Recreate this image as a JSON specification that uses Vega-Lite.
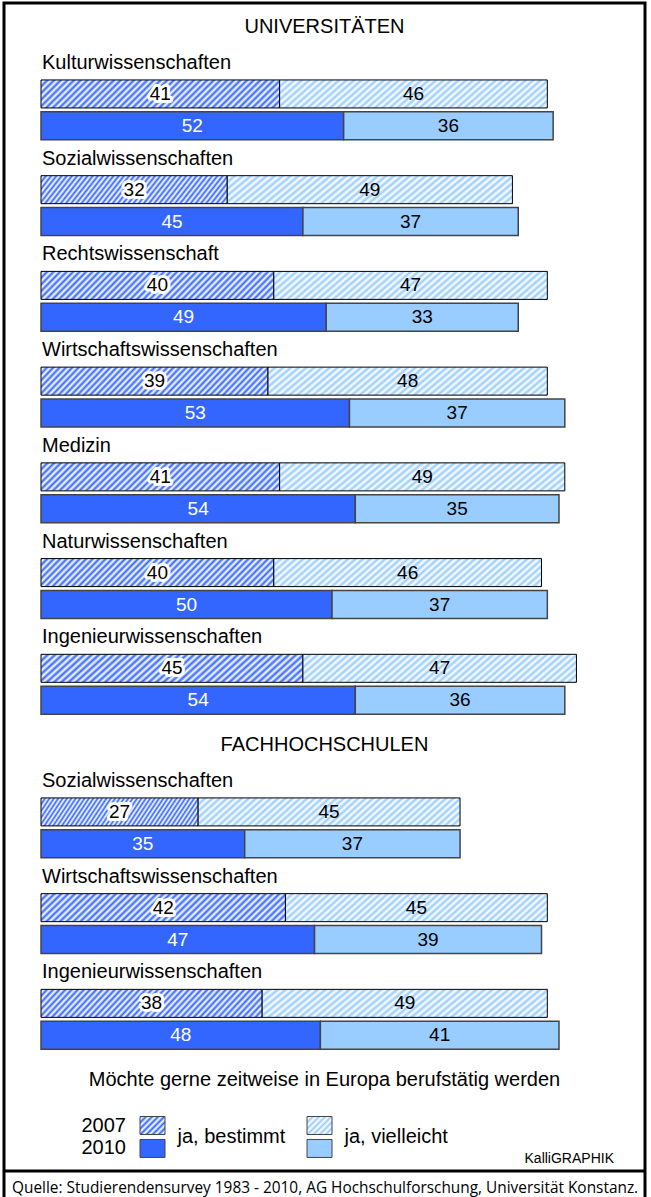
{
"$schema": "https://vega.github.io/schema/vega-lite/v6.json",
"width": 641,
"height": 1203,
"autosize": {"type": "none"},
"padding": {"left": 4, "top": 3, "right": 6, "bottom": 0},
"background": "#ffffff",
"config": {"view": {"stroke": "#000000", "strokeWidth": 3}, "font": "Liberation Sans", "axis": {"disable": true}},
"datasets": {
"bars": [
{"row":"U1-2007","year":2007,"typ":"ja, bestimmt","value":41},{"row":"U1-2007","year":2007,"typ":"ja, vielleicht","value":46},
{"row":"U1-2010","year":2010,"typ":"ja, bestimmt","value":52},{"row":"U1-2010","year":2010,"typ":"ja, vielleicht","value":36},
{"row":"U2-2007","year":2007,"typ":"ja, bestimmt","value":32},{"row":"U2-2007","year":2007,"typ":"ja, vielleicht","value":49},
{"row":"U2-2010","year":2010,"typ":"ja, bestimmt","value":45},{"row":"U2-2010","year":2010,"typ":"ja, vielleicht","value":37},
{"row":"U3-2007","year":2007,"typ":"ja, bestimmt","value":40},{"row":"U3-2007","year":2007,"typ":"ja, vielleicht","value":47},
{"row":"U3-2010","year":2010,"typ":"ja, bestimmt","value":49},{"row":"U3-2010","year":2010,"typ":"ja, vielleicht","value":33},
{"row":"U4-2007","year":2007,"typ":"ja, bestimmt","value":39},{"row":"U4-2007","year":2007,"typ":"ja, vielleicht","value":48},
{"row":"U4-2010","year":2010,"typ":"ja, bestimmt","value":53},{"row":"U4-2010","year":2010,"typ":"ja, vielleicht","value":37},
{"row":"U5-2007","year":2007,"typ":"ja, bestimmt","value":41},{"row":"U5-2007","year":2007,"typ":"ja, vielleicht","value":49},
{"row":"U5-2010","year":2010,"typ":"ja, bestimmt","value":54},{"row":"U5-2010","year":2010,"typ":"ja, vielleicht","value":35},
{"row":"U6-2007","year":2007,"typ":"ja, bestimmt","value":40},{"row":"U6-2007","year":2007,"typ":"ja, vielleicht","value":46},
{"row":"U6-2010","year":2010,"typ":"ja, bestimmt","value":50},{"row":"U6-2010","year":2010,"typ":"ja, vielleicht","value":37},
{"row":"U7-2007","year":2007,"typ":"ja, bestimmt","value":45},{"row":"U7-2007","year":2007,"typ":"ja, vielleicht","value":47},
{"row":"U7-2010","year":2010,"typ":"ja, bestimmt","value":54},{"row":"U7-2010","year":2010,"typ":"ja, vielleicht","value":36},
{"row":"F1-2007","year":2007,"typ":"ja, bestimmt","value":27},{"row":"F1-2007","year":2007,"typ":"ja, vielleicht","value":45},
{"row":"F1-2010","year":2010,"typ":"ja, bestimmt","value":35},{"row":"F1-2010","year":2010,"typ":"ja, vielleicht","value":37},
{"row":"F2-2007","year":2007,"typ":"ja, bestimmt","value":42},{"row":"F2-2007","year":2007,"typ":"ja, vielleicht","value":45},
{"row":"F2-2010","year":2010,"typ":"ja, bestimmt","value":47},{"row":"F2-2010","year":2010,"typ":"ja, vielleicht","value":39},
{"row":"F3-2007","year":2007,"typ":"ja, bestimmt","value":38},{"row":"F3-2007","year":2007,"typ":"ja, vielleicht","value":49},
{"row":"F3-2010","year":2010,"typ":"ja, bestimmt","value":48},{"row":"F3-2010","year":2010,"typ":"ja, vielleicht","value":41}
],
"labels": [
{"row":"U1L","label":"Kulturwissenschaften"},{"row":"U2L","label":"Sozialwissenschaften"},{"row":"U3L","label":"Rechtswissenschaft"},
{"row":"U4L","label":"Wirtschaftswissenschaften"},{"row":"U5L","label":"Medizin"},{"row":"U6L","label":"Naturwissenschaften"},
{"row":"U7L","label":"Ingenieurwissenschaften"},{"row":"F1L","label":"Sozialwissenschaften"},{"row":"F2L","label":"Wirtschaftswissenschaften"},
{"row":"F3L","label":"Ingenieurwissenschaften"}
],
"heads": [
{"row":"UNI","label":"UNIVERSITÄTEN"},{"row":"FH","label":"FACHHOCHSCHULEN"},{"row":"LT","label":"Möchte gerne zeitweise in Europa berufstätig werden"}
],
"legend": [
{"row":"L2007","year":"2007","typ":"ja, bestimmt"},{"row":"L2007","year":"2007","typ":"ja, vielleicht"},
{"row":"L2010","year":"2010","typ":"ja, bestimmt"},{"row":"L2010","year":"2010","typ":"ja, vielleicht"}
],
"notes": [{"row":"KG","label":"KalliGRAPHIK"}],
"source": [{"row":"Q","label":"Quelle: Studierendensurvey 1983 - 2010, AG Hochschulforschung, Universität Konstanz."}],
"divider": [{"row":"DIV"}]
},
"encoding": {
"y": {"field": "row", "type": "nominal", "axis": null,
"scale": {"type": "band", "paddingInner": 0, "paddingOuter": 0.2,
"domain": ["s0","UNI","s2","U1L","s4","U1-2007","s6","U1-2010","s8","U2L","s10","U2-2007","s12","U2-2010","s14","U3L","s16","U3-2007","s18","U3-2010","s20","U4L","s22","U4-2007","s24","U4-2010","s26","U5L","s28","U5-2007","s30","U5-2010","s32","U6L","s34","U6-2007","s36","U6-2010","s38","U7L","s40","U7-2007","s42","U7-2010","s44","s45","FH","s47","F1L","s49","F1-2007","s51","F1-2010","s53","F2L","s55","F2-2007","s57","F2-2010","s59","F3L","s61","F3-2007","s63","F3-2010","s65","s66","LT","s68","s69","L2007","L2010","KG","DIV","Q"]}}
},
"resolve": {"scale": {"x": "independent"}},
"layer": [
{
"data": {"name": "bars"},
"transform": [{"stack": "value", "groupby": ["row"], "sort": [{"field": "typ"}], "as": ["x0", "x1"]}, {"filter": "datum.year == 2007 && datum.typ == 'ja, bestimmt'"}],
"mark": {"type": "bar", "height": 28, "stroke": "#000000", "strokeWidth": 1,
"fill": {"gradient": "linear", "x1": 0, "y1": 0, "x2": 1.1, "y2": 0.13, "stops": [{"offset":0,"color":"#3366ff"},{"offset":0.0125,"color":"#ffffff"},{"offset":0.025,"color":"#3366ff"},{"offset":0.0375,"color":"#ffffff"},{"offset":0.05,"color":"#3366ff"},{"offset":0.0625,"color":"#ffffff"},{"offset":0.075,"color":"#3366ff"},{"offset":0.0875,"color":"#ffffff"},{"offset":0.1,"color":"#3366ff"},{"offset":0.1125,"color":"#ffffff"},{"offset":0.125,"color":"#3366ff"},{"offset":0.1375,"color":"#ffffff"},{"offset":0.15,"color":"#3366ff"},{"offset":0.1625,"color":"#ffffff"},{"offset":0.175,"color":"#3366ff"},{"offset":0.1875,"color":"#ffffff"},{"offset":0.2,"color":"#3366ff"},{"offset":0.2125,"color":"#ffffff"},{"offset":0.225,"color":"#3366ff"},{"offset":0.2375,"color":"#ffffff"},{"offset":0.25,"color":"#3366ff"},{"offset":0.2625,"color":"#ffffff"},{"offset":0.275,"color":"#3366ff"},{"offset":0.2875,"color":"#ffffff"},{"offset":0.3,"color":"#3366ff"},{"offset":0.3125,"color":"#ffffff"},{"offset":0.325,"color":"#3366ff"},{"offset":0.3375,"color":"#ffffff"},{"offset":0.35,"color":"#3366ff"},{"offset":0.3625,"color":"#ffffff"},{"offset":0.375,"color":"#3366ff"},{"offset":0.3875,"color":"#ffffff"},{"offset":0.4,"color":"#3366ff"},{"offset":0.4125,"color":"#ffffff"},{"offset":0.425,"color":"#3366ff"},{"offset":0.4375,"color":"#ffffff"},{"offset":0.45,"color":"#3366ff"},{"offset":0.4625,"color":"#ffffff"},{"offset":0.475,"color":"#3366ff"},{"offset":0.4875,"color":"#ffffff"},{"offset":0.5,"color":"#3366ff"},{"offset":0.5125,"color":"#ffffff"},{"offset":0.525,"color":"#3366ff"},{"offset":0.5375,"color":"#ffffff"},{"offset":0.55,"color":"#3366ff"},{"offset":0.5625,"color":"#ffffff"},{"offset":0.575,"color":"#3366ff"},{"offset":0.5875,"color":"#ffffff"},{"offset":0.6,"color":"#3366ff"},{"offset":0.6125,"color":"#ffffff"},{"offset":0.625,"color":"#3366ff"},{"offset":0.6375,"color":"#ffffff"},{"offset":0.65,"color":"#3366ff"},{"offset":0.6625,"color":"#ffffff"},{"offset":0.675,"color":"#3366ff"},{"offset":0.6875,"color":"#ffffff"},{"offset":0.7,"color":"#3366ff"},{"offset":0.7125,"color":"#ffffff"},{"offset":0.725,"color":"#3366ff"},{"offset":0.7375,"color":"#ffffff"},{"offset":0.75,"color":"#3366ff"},{"offset":0.7625,"color":"#ffffff"},{"offset":0.775,"color":"#3366ff"},{"offset":0.7875,"color":"#ffffff"},{"offset":0.8,"color":"#3366ff"},{"offset":0.8125,"color":"#ffffff"},{"offset":0.825,"color":"#3366ff"},{"offset":0.8375,"color":"#ffffff"},{"offset":0.85,"color":"#3366ff"},{"offset":0.8625,"color":"#ffffff"},{"offset":0.875,"color":"#3366ff"},{"offset":0.8875,"color":"#ffffff"},{"offset":0.9,"color":"#3366ff"},{"offset":0.9125,"color":"#ffffff"},{"offset":0.925,"color":"#3366ff"},{"offset":0.9375,"color":"#ffffff"},{"offset":0.95,"color":"#3366ff"},{"offset":0.9625,"color":"#ffffff"},{"offset":0.975,"color":"#3366ff"},{"offset":0.9875,"color":"#ffffff"},{"offset":1,"color":"#3366ff"}]}},
"encoding": {
"x": {"field": "x0", "type": "quantitative", "axis": null, "scale": {"domain": [-6.36, 103.78], "nice": false, "zero": false}},
"x2": {"field": "x1"}
}
},
{
"data": {"name": "bars"},
"transform": [{"stack": "value", "groupby": ["row"], "sort": [{"field": "typ"}], "as": ["x0", "x1"]}, {"filter": "datum.year == 2007 && datum.typ == 'ja, vielleicht'"}],
"mark": {"type": "bar", "height": 28, "stroke": "#000000", "strokeWidth": 1,
"fill": {"gradient": "linear", "x1": 0, "y1": 0, "x2": 1.1, "y2": 0.13, "stops": [{"offset":0,"color":"#99ccff"},{"offset":0.0125,"color":"#ffffff"},{"offset":0.025,"color":"#99ccff"},{"offset":0.0375,"color":"#ffffff"},{"offset":0.05,"color":"#99ccff"},{"offset":0.0625,"color":"#ffffff"},{"offset":0.075,"color":"#99ccff"},{"offset":0.0875,"color":"#ffffff"},{"offset":0.1,"color":"#99ccff"},{"offset":0.1125,"color":"#ffffff"},{"offset":0.125,"color":"#99ccff"},{"offset":0.1375,"color":"#ffffff"},{"offset":0.15,"color":"#99ccff"},{"offset":0.1625,"color":"#ffffff"},{"offset":0.175,"color":"#99ccff"},{"offset":0.1875,"color":"#ffffff"},{"offset":0.2,"color":"#99ccff"},{"offset":0.2125,"color":"#ffffff"},{"offset":0.225,"color":"#99ccff"},{"offset":0.2375,"color":"#ffffff"},{"offset":0.25,"color":"#99ccff"},{"offset":0.2625,"color":"#ffffff"},{"offset":0.275,"color":"#99ccff"},{"offset":0.2875,"color":"#ffffff"},{"offset":0.3,"color":"#99ccff"},{"offset":0.3125,"color":"#ffffff"},{"offset":0.325,"color":"#99ccff"},{"offset":0.3375,"color":"#ffffff"},{"offset":0.35,"color":"#99ccff"},{"offset":0.3625,"color":"#ffffff"},{"offset":0.375,"color":"#99ccff"},{"offset":0.3875,"color":"#ffffff"},{"offset":0.4,"color":"#99ccff"},{"offset":0.4125,"color":"#ffffff"},{"offset":0.425,"color":"#99ccff"},{"offset":0.4375,"color":"#ffffff"},{"offset":0.45,"color":"#99ccff"},{"offset":0.4625,"color":"#ffffff"},{"offset":0.475,"color":"#99ccff"},{"offset":0.4875,"color":"#ffffff"},{"offset":0.5,"color":"#99ccff"},{"offset":0.5125,"color":"#ffffff"},{"offset":0.525,"color":"#99ccff"},{"offset":0.5375,"color":"#ffffff"},{"offset":0.55,"color":"#99ccff"},{"offset":0.5625,"color":"#ffffff"},{"offset":0.575,"color":"#99ccff"},{"offset":0.5875,"color":"#ffffff"},{"offset":0.6,"color":"#99ccff"},{"offset":0.6125,"color":"#ffffff"},{"offset":0.625,"color":"#99ccff"},{"offset":0.6375,"color":"#ffffff"},{"offset":0.65,"color":"#99ccff"},{"offset":0.6625,"color":"#ffffff"},{"offset":0.675,"color":"#99ccff"},{"offset":0.6875,"color":"#ffffff"},{"offset":0.7,"color":"#99ccff"},{"offset":0.7125,"color":"#ffffff"},{"offset":0.725,"color":"#99ccff"},{"offset":0.7375,"color":"#ffffff"},{"offset":0.75,"color":"#99ccff"},{"offset":0.7625,"color":"#ffffff"},{"offset":0.775,"color":"#99ccff"},{"offset":0.7875,"color":"#ffffff"},{"offset":0.8,"color":"#99ccff"},{"offset":0.8125,"color":"#ffffff"},{"offset":0.825,"color":"#99ccff"},{"offset":0.8375,"color":"#ffffff"},{"offset":0.85,"color":"#99ccff"},{"offset":0.8625,"color":"#ffffff"},{"offset":0.875,"color":"#99ccff"},{"offset":0.8875,"color":"#ffffff"},{"offset":0.9,"color":"#99ccff"},{"offset":0.9125,"color":"#ffffff"},{"offset":0.925,"color":"#99ccff"},{"offset":0.9375,"color":"#ffffff"},{"offset":0.95,"color":"#99ccff"},{"offset":0.9625,"color":"#ffffff"},{"offset":0.975,"color":"#99ccff"},{"offset":0.9875,"color":"#ffffff"},{"offset":1,"color":"#99ccff"}]}},
"encoding": {
"x": {"field": "x0", "type": "quantitative", "axis": null, "scale": {"domain": [-6.36, 103.78], "nice": false, "zero": false}},
"x2": {"field": "x1"}
}
},
{
"data": {"name": "bars"},
"transform": [{"stack": "value", "groupby": ["row"], "sort": [{"field": "typ"}], "as": ["x0", "x1"]}, {"filter": "datum.year == 2010"}],
"mark": {"type": "bar", "height": 28, "stroke": "#444444", "strokeWidth": 1.5},
"encoding": {
"x": {"field": "x0", "type": "quantitative", "axis": null, "scale": {"domain": [-6.36, 103.78], "nice": false, "zero": false}},
"x2": {"field": "x1"},
"fill": {"field": "typ", "type": "nominal", "legend": null, "scale": {"domain": ["ja, bestimmt", "ja, vielleicht"], "range": ["#3366ff", "#99ccff"]}}
}
},
{
"data": {"name": "bars"},
"transform": [{"stack": "value", "groupby": ["row"], "sort": [{"field": "typ"}], "as": ["x0", "x1"]}, {"filter": "datum.year == 2007 && datum.typ == 'ja, bestimmt'"}, {"calculate": "(datum.x0 + datum.x1) / 2", "as": "mid"}],
"mark": {"type": "text", "fontSize": 19, "fill": "#ffffff", "stroke": "#ffffff", "strokeWidth": 6, "strokeJoin": "round"},
"encoding": {
"x": {"field": "mid", "type": "quantitative", "axis": null, "scale": {"domain": [-6.36, 103.78], "nice": false, "zero": false}},
"text": {"field": "value", "type": "quantitative"}
}
},
{
"data": {"name": "bars"},
"transform": [{"stack": "value", "groupby": ["row"], "sort": [{"field": "typ"}], "as": ["x0", "x1"]}, {"calculate": "(datum.x0 + datum.x1) / 2", "as": "mid"}],
"mark": {"type": "text", "fontSize": 19},
"encoding": {
"x": {"field": "mid", "type": "quantitative", "axis": null, "scale": {"domain": [-6.36, 103.78], "nice": false, "zero": false}},
"text": {"field": "value", "type": "quantitative"},
"color": {"condition": {"test": "datum.year == 2010 && datum.typ == 'ja, bestimmt'", "value": "#ffffff"}, "value": "#000000"}
}
},
{
"data": {"name": "labels"},
"mark": {"type": "text", "fontSize": 20, "align": "left", "dx": 1, "dy": 1, "color": "#000000"},
"encoding": {
"x": {"datum": 0, "type": "quantitative", "axis": null, "scale": {"domain": [-6.36, 103.78], "nice": false, "zero": false}},
"text": {"field": "label"}
}
},
{
"data": {"name": "heads"},
"mark": {"type": "text", "fontSize": 20, "align": "center", "dy": -3, "color": "#000000", "x": {"expr": "width / 2"}},
"encoding": {
"text": {"field": "label"}
}
},
{
"data": {"name": "legend"},
"transform": [{"filter": "datum.year == '2007' && datum.typ == 'ja, bestimmt'"}],
"mark": {"type": "point", "shape": "M-1,-0.72H1V0.72H-1Z", "size": 625, "filled": true, "opacity": 1, "stroke": "#444444", "strokeWidth": 1, "yOffset": -5.5,
"fill": {"gradient": "linear", "x1": 0, "y1": 0, "x2": 1.13, "y2": 0.81, "stops": [{"offset":0,"color":"#3366ff"},{"offset":0.0714,"color":"#ffffff"},{"offset":0.1429,"color":"#3366ff"},{"offset":0.2143,"color":"#ffffff"},{"offset":0.2857,"color":"#3366ff"},{"offset":0.3571,"color":"#ffffff"},{"offset":0.4286,"color":"#3366ff"},{"offset":0.5,"color":"#ffffff"},{"offset":0.5714,"color":"#3366ff"},{"offset":0.6429,"color":"#ffffff"},{"offset":0.7143,"color":"#3366ff"},{"offset":0.7857,"color":"#ffffff"},{"offset":0.8571,"color":"#3366ff"},{"offset":0.9286,"color":"#ffffff"},{"offset":1,"color":"#3366ff"}]}},
"encoding": {
"x": {"field": "typ", "type": "nominal", "axis": null, "scale": {"type": "point", "padding": 0, "domain": ["ja, bestimmt", "ja, vielleicht"], "range": [148.5, 315.5]}}
}
},
{
"data": {"name": "legend"},
"transform": [{"filter": "datum.year == '2007' && datum.typ == 'ja, vielleicht'"}],
"mark": {"type": "point", "shape": "M-1,-0.72H1V0.72H-1Z", "size": 625, "filled": true, "opacity": 1, "stroke": "#444444", "strokeWidth": 1, "yOffset": -5.5,
"fill": {"gradient": "linear", "x1": 0, "y1": 0, "x2": 1.13, "y2": 0.81, "stops": [{"offset":0,"color":"#99ccff"},{"offset":0.0714,"color":"#ffffff"},{"offset":0.1429,"color":"#99ccff"},{"offset":0.2143,"color":"#ffffff"},{"offset":0.2857,"color":"#99ccff"},{"offset":0.3571,"color":"#ffffff"},{"offset":0.4286,"color":"#99ccff"},{"offset":0.5,"color":"#ffffff"},{"offset":0.5714,"color":"#99ccff"},{"offset":0.6429,"color":"#ffffff"},{"offset":0.7143,"color":"#99ccff"},{"offset":0.7857,"color":"#ffffff"},{"offset":0.8571,"color":"#99ccff"},{"offset":0.9286,"color":"#ffffff"},{"offset":1,"color":"#99ccff"}]}},
"encoding": {
"x": {"field": "typ", "type": "nominal", "axis": null, "scale": {"type": "point", "padding": 0, "domain": ["ja, bestimmt", "ja, vielleicht"], "range": [148.5, 315.5]}}
}
},
{
"data": {"name": "legend"},
"transform": [{"filter": "datum.year == '2010'"}],
"mark": {"type": "point", "shape": "M-1,-0.72H1V0.72H-1Z", "size": 625, "filled": true, "opacity": 1, "stroke": "#444444", "strokeWidth": 1, "yOffset": 1.5},
"encoding": {
"x": {"field": "typ", "type": "nominal", "axis": null, "scale": {"type": "point", "padding": 0, "domain": ["ja, bestimmt", "ja, vielleicht"], "range": [148.5, 315.5]}},
"fill": {"field": "typ", "type": "nominal", "legend": null, "scale": {"domain": ["ja, bestimmt", "ja, vielleicht"], "range": ["#3366ff", "#99ccff"]}}
}
},
{
"data": {"name": "legend"},
"transform": [{"filter": "datum.year == '2007' && datum.typ == 'ja, bestimmt'"}],
"mark": {"type": "text", "fontSize": 20, "align": "right", "dx": -26.5, "dy": -5.5, "color": "#000000"},
"encoding": {
"x": {"field": "typ", "type": "nominal", "axis": null, "scale": {"type": "point", "padding": 0, "domain": ["ja, bestimmt", "ja, vielleicht"], "range": [148.5, 315.5]}},
"text": {"field": "year"}
}
},
{
"data": {"name": "legend"},
"transform": [{"filter": "datum.year == '2010' && datum.typ == 'ja, bestimmt'"}],
"mark": {"type": "text", "fontSize": 20, "align": "right", "dx": -26.5, "dy": 1.5, "color": "#000000"},
"encoding": {
"x": {"field": "typ", "type": "nominal", "axis": null, "scale": {"type": "point", "padding": 0, "domain": ["ja, bestimmt", "ja, vielleicht"], "range": [148.5, 315.5]}},
"text": {"field": "year"}
}
},
{
"data": {"name": "legend"},
"transform": [{"filter": "datum.year == '2007'"}],
"mark": {"type": "text", "fontSize": 20, "align": "left", "dx": 25, "dy": 5.5, "color": "#000000"},
"encoding": {
"x": {"field": "typ", "type": "nominal", "axis": null, "scale": {"type": "point", "padding": 0, "domain": ["ja, bestimmt", "ja, vielleicht"], "range": [148.5, 315.5]}},
"text": {"field": "typ"}
}
},
{
"data": {"name": "notes"},
"mark": {"type": "text", "fontSize": 14, "align": "right", "dy": -4, "color": "#000000"},
"encoding": {
"x": {"datum": 98.45, "type": "quantitative", "axis": null, "scale": {"domain": [-6.36, 103.78], "nice": false, "zero": false}},
"text": {"field": "label"}
}
},
{
"data": {"name": "divider"},
"mark": {"type": "rule", "color": "#000000", "strokeWidth": 3, "yOffset": -8},
"encoding": {}
},
{
"data": {"name": "source"},
"mark": {"type": "text", "fontSize": 15.4, "align": "left", "dy": -7, "color": "#000000", "font": "Open Sans"},
"encoding": {
"x": {"datum": -4.98, "type": "quantitative", "axis": null, "scale": {"domain": [-6.36, 103.78], "nice": false, "zero": false}},
"text": {"field": "label"}
}
}
]
}
